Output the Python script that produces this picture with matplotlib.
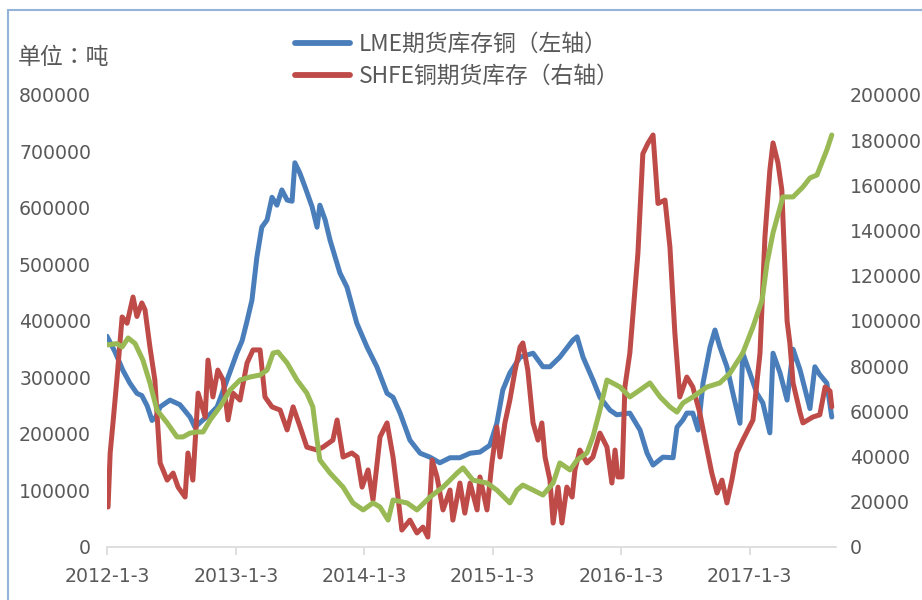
import matplotlib
matplotlib.use("Agg")
import matplotlib.pyplot as plt
from matplotlib.lines import Line2D
from matplotlib.patches import Rectangle
import pandas as pd

# ---------------- data ----------------
lme_dates = ["2012-01-03","2012-01-26","2012-02-17","2012-03-08","2012-03-28","2012-04-11","2012-04-26",
             "2012-05-10","2012-05-21","2012-06-02","2012-06-30","2012-07-28","2012-08-26","2012-09-09",
             "2012-10-02","2012-10-22","2012-11-11","2012-12-09","2013-01-06","2013-01-21","2013-02-04",
             "2013-02-18","2013-03-04","2013-03-18","2013-04-02","2013-04-16","2013-04-30","2013-05-14",
             "2013-05-29","2013-06-12","2013-06-20","2013-07-04","2013-07-19","2013-08-08","2013-08-22",
             "2013-08-30","2013-09-14","2013-09-28","2013-10-26","2013-11-15","2013-12-13","2014-01-11",
             "2014-02-08","2014-03-09","2014-03-26","2014-04-15","2014-05-13","2014-06-11","2014-07-09",
             "2014-08-06","2014-09-04","2014-10-02","2014-10-31","2014-11-28","2014-12-26","2015-01-15",
             "2015-02-01","2015-02-21","2015-03-22","2015-04-28","2015-05-26","2015-06-15","2015-07-13",
             "2015-08-19","2015-08-31","2015-09-17","2015-10-15","2015-11-04","2015-12-03","2015-12-22",
             "2016-01-28","2016-02-26","2016-03-17","2016-04-03","2016-05-01","2016-05-30","2016-06-10",
             "2016-06-27","2016-07-08","2016-07-25","2016-08-09","2016-08-23","2016-09-12","2016-09-26",
             "2016-10-10","2016-10-30","2016-11-16","2016-12-06","2016-12-14","2017-01-03","2017-01-23",
             "2017-02-09","2017-03-01","2017-03-10","2017-03-30","2017-04-19","2017-05-06","2017-05-26",
             "2017-06-23","2017-07-07","2017-07-21","2017-08-10","2017-08-24"]
lme_values = [373000,345000,313000,290000,272000,268000,250000,
              224000,230000,248000,260000,252000,230000,212000,
              225000,235000,248000,295000,343000,365000,400000,
              437000,513000,566000,579000,619000,605000,632000,
              614000,612000,680000,662000,637000,602000,566000,
              605000,579000,543000,485000,460000,396000,354000,
              319000,272000,265000,237000,189000,166000,159000,
              149000,158000,158000,166000,168000,180000,219000,
              278000,308000,336000,343000,319000,319000,336000,
              366000,372000,336000,296000,265000,242000,234000,
              237000,207000,166000,145000,159000,158000,212000,
              225000,237000,237000,207000,290000,354000,384000,
              354000,319000,272000,219000,343000,308000,272000,
              255000,202000,343000,308000,260000,350000,313000,
              245000,319000,305000,290000,230000]

shfe_dates = ["2012-01-06","2012-01-12","2012-01-20","2012-01-31","2012-02-15","2012-02-29","2012-03-17",
              "2012-03-28","2012-04-11","2012-04-20","2012-05-04","2012-05-18","2012-06-02","2012-06-22",
              "2012-07-09","2012-07-23","2012-08-12","2012-08-20","2012-09-03","2012-09-18","2012-10-08",
              "2012-10-16","2012-10-30","2012-11-13","2012-11-28","2012-12-12","2012-12-26","2013-01-15",
              "2013-02-04","2013-02-21","2013-03-13","2013-03-27","2013-04-16","2013-05-09","2013-05-29",
              "2013-06-15","2013-07-05","2013-07-24","2013-08-22","2013-09-08","2013-10-06","2013-10-18",
              "2013-11-04","2013-11-29","2013-12-14","2013-12-28","2014-01-14","2014-01-28","2014-02-17",
              "2014-03-09","2014-03-26","2014-04-09","2014-04-20","2014-05-13","2014-06-02","2014-06-19",
              "2014-07-03","2014-07-15","2014-07-29","2014-08-15","2014-09-04","2014-09-12","2014-10-02",
              "2014-10-16","2014-10-31","2014-11-20","2014-11-28","2014-12-18","2015-01-01","2015-01-15",
              "2015-01-24","2015-02-07","2015-02-21","2015-03-08","2015-03-22","2015-03-30","2015-04-13",
              "2015-04-28","2015-05-12","2015-05-23","2015-06-01","2015-06-15","2015-06-24","2015-07-08",
              "2015-07-19","2015-08-02","2015-08-17","2015-08-25","2015-09-08","2015-09-28","2015-10-15",
              "2015-11-04","2015-11-24","2015-12-08","2015-12-17","2015-12-25","2016-01-06","2016-01-14",
              "2016-01-28","2016-02-12","2016-02-20","2016-03-05","2016-03-20","2016-04-03","2016-04-17",
              "2016-05-07","2016-05-21","2016-06-04","2016-06-18","2016-07-08","2016-07-25","2016-08-14",
              "2016-08-29","2016-09-17","2016-10-02","2016-10-16","2016-10-30","2016-11-13","2016-11-27",
              "2016-12-14","2017-01-12","2017-02-01","2017-02-15","2017-03-01","2017-03-10","2017-03-24",
              "2017-04-04","2017-04-19","2017-04-27","2017-05-06","2017-05-26","2017-06-03","2017-07-01",
              "2017-07-21","2017-08-05","2017-08-19","2017-08-24"]
shfe_values = [17700,41600,54900,73900,101800,99000,110600,
               102000,108000,105000,88500,73900,37200,29600,
               32700,26500,22100,41600,29600,68100,57500,
               82700,66400,78300,73900,56200,68100,65000,
               81400,87200,87200,66400,62000,60600,51800,
               62000,53100,44200,42900,44200,47300,56200,
               39800,41600,39800,26500,34100,20800,48700,
               54900,39800,22100,7500,11900,6200,8800,
               4400,38500,31000,16400,25200,11900,28300,
               15000,28300,16400,31000,16400,37200,53100,
               39800,54900,65000,78300,88500,90300,78300,
               54900,47300,54900,39800,29600,10600,26500,
               10600,26500,22100,34100,42900,37200,39800,
               50400,44200,28300,42900,31000,31000,70800,
               85800,115000,130000,174000,178800,182300,152000,
               153500,132700,94700,66400,75200,70800,59300,
               47300,32700,23900,29600,19500,29600,41600,
               47300,56200,85800,137200,166800,178800,170000,
               158000,100000,90000,72600,59300,54900,57500,
               58500,70800,69000,62000]

green_dates = ["2012-01-03","2012-01-31","2012-02-15","2012-03-03","2012-03-23","2012-04-14","2012-05-04",
               "2012-05-24","2012-06-22","2012-07-20","2012-08-06","2012-08-26","2012-09-15","2012-10-02",
               "2012-10-22","2012-11-19","2012-12-18","2013-01-15","2013-02-12","2013-03-13","2013-04-02",
               "2013-04-19","2013-05-03","2013-05-29","2013-06-26","2013-07-24","2013-08-10","2013-08-22",
               "2013-08-30","2013-09-28","2013-11-04","2013-12-02","2013-12-31","2014-01-28","2014-02-17",
               "2014-03-12","2014-03-26","2014-05-05","2014-06-02","2014-07-09","2014-08-15","2014-09-24",
               "2014-10-11","2014-11-08","2014-12-18","2015-01-15","2015-02-21","2015-03-13","2015-03-30",
               "2015-04-28","2015-05-26","2015-06-24","2015-07-13","2015-08-11","2015-08-31","2015-09-28",
               "2015-10-15","2015-11-04","2015-11-24","2015-12-31","2016-01-28","2016-02-26","2016-03-25",
               "2016-04-23","2016-05-21","2016-06-10","2016-06-27","2016-07-25","2016-09-03","2016-10-10",
               "2016-11-08","2016-12-14","2017-01-12","2017-02-07","2017-02-21","2017-03-10","2017-04-07",
               "2017-05-06","2017-06-03","2017-06-23","2017-07-13","2017-08-10","2017-08-24"]
green_values = [89400,90000,88500,92500,90000,82700,72600,
                60600,54900,48700,48700,50400,50900,50900,
                56200,62000,69500,73900,75200,76100,78300,
                85800,86300,81400,73900,68100,62000,47300,
                38500,32700,26500,19500,16400,19500,17700,
                11900,20800,19500,16400,22100,26500,32700,
                35000,29600,28300,25200,19500,25200,27400,
                25200,23000,28300,37200,34100,38500,41600,
                48700,60600,73900,70800,66400,69500,72600,
                66400,62000,59700,63700,66400,70800,72600,
                77000,85800,97400,109300,125700,139000,154900,
                154900,159300,163300,164600,175700,182300]

left_ticks = [0, 100000, 200000, 300000, 400000, 500000, 600000, 700000, 800000]
right_ticks = [0, 20000, 40000, 60000, 80000, 100000, 120000, 140000, 160000, 180000, 200000]
x_tick_dates = ["2012-01-03", "2013-01-03", "2014-01-03", "2015-01-03", "2016-01-03", "2017-01-03"]
x_tick_labels = ["2012-1-3", "2013-1-3", "2014-1-3", "2015-1-3", "2016-1-3", "2017-1-3"]
legend_labels = ["LME期货库存铜（左轴）", "SHFE铜期货库存（右轴）"]
unit_label = "单位：吨"

# ---------------- style ----------------
BLUE = "#4A7EBB"
RED = "#BE4B48"
GREEN = "#98B954"
TXT = "#595959"
CJK = ["Noto Sans CJK TC", "DejaVu Sans"]
plt.rcParams["font.family"] = ["DejaVu Sans", "Noto Sans CJK SC"]

W, H = 922, 600
fig = plt.figure(figsize=(W / 100, H / 100), dpi=100)

L, R, B, T = 107, 836, 547, 95
ax = fig.add_axes([L / W, 1 - B / H, (R - L) / W, (B - T) / H])
ax2 = ax.twinx()

lw = 3.6
kw = dict(solid_capstyle="round", solid_joinstyle="round")
ax.plot(pd.to_datetime(lme_dates), lme_values, color=BLUE, lw=lw, zorder=2, **kw)
ax2.plot(pd.to_datetime(shfe_dates), shfe_values, color=RED, lw=lw, zorder=3, **kw)
ax2.plot(pd.to_datetime(green_dates), green_values, color=GREEN, lw=lw, zorder=4, **kw)

ax.set_ylim(0, 800000)
ax2.set_ylim(0, 200000)
ax.set_xlim(pd.Timestamp("2012-01-03"), pd.Timestamp("2017-09-05"))

ax.set_yticks(left_ticks)
ax.set_yticklabels([str(v) for v in left_ticks])
ax2.set_yticks(right_ticks)
ax2.set_yticklabels([str(v) for v in right_ticks])
ax.set_xticks(pd.to_datetime(x_tick_dates))
ax.set_xticklabels(x_tick_labels)

for a in (ax, ax2):
    for s in a.spines.values():
        s.set_visible(False)
ax.spines["bottom"].set_visible(True)
ax.spines["bottom"].set_color("#D9D9D9")
ax.spines["bottom"].set_linewidth(1.2)

fs = 13.6
ax.tick_params(axis="x", colors="#D9D9D9", labelcolor=TXT, labelsize=fs, length=6, width=1.2,
               direction="out", pad=8.5)
ax.tick_params(axis="y", length=0, labelcolor=TXT, labelsize=fs, pad=11.5)
ax2.tick_params(axis="y", length=0, labelcolor=TXT, labelsize=fs, pad=10)

# unit label
fig.text(18 / W, 1 - 57 / H, unit_label, fontsize=16.5, color=TXT, family=CJK,
         ha="left", va="center")

# legend
handles = [Line2D([0], [0], color=BLUE, lw=4.2, solid_capstyle="round"),
           Line2D([0], [0], color=RED, lw=4.2, solid_capstyle="round")]
leg = fig.legend(handles, legend_labels, loc="upper left",
                 bbox_to_anchor=(295 / W, 1 - 33 / H), frameon=False,
                 prop={"family": CJK, "size": 16.4}, handlelength=2.4,
                 handletextpad=0.42, labelspacing=0.38, borderpad=0, borderaxespad=0)
for t in leg.get_texts():
    t.set_color(TXT)

# outer chart border (light blue, partly off-canvas)
fig.patches.append(Rectangle((8 / W, -0.1), 1.2, 1 - 10 / H + 0.1, transform=fig.transFigure,
                             fill=False, edgecolor="#93B3D9", lw=1.5, zorder=0))

fig.savefig("out.png", dpi=100)
